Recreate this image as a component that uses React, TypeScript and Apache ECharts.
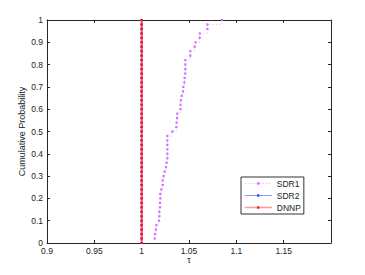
import React, { useEffect, useRef } from "react";
import * as echarts from "echarts";

const xTicks = [0.9, 0.95, 1, 1.05, 1.1, 1.15];
const yTicks = [0, 0.1, 0.2, 0.3, 0.4, 0.5, 0.6, 0.7, 0.8, 0.9, 1];

const probLevels = [
  0.02, 0.04, 0.06, 0.08, 0.1, 0.12, 0.14, 0.16, 0.18, 0.2,
  0.22, 0.24, 0.26, 0.28, 0.3, 0.32, 0.34, 0.36, 0.38, 0.4,
  0.42, 0.44, 0.46, 0.48, 0.5, 0.52, 0.54, 0.56, 0.58, 0.6,
  0.62, 0.64, 0.66, 0.68, 0.7, 0.72, 0.74, 0.76, 0.78, 0.8,
  0.82, 0.84, 0.86, 0.88, 0.9, 0.92, 0.94, 0.96, 0.98, 1.0,
];

const sdr1Tau = [
  1.0138, 1.0141, 1.015, 1.0155, 1.0183, 1.0187, 1.0187, 1.0194, 1.0194, 1.0197,
  1.0197, 1.0208, 1.0222, 1.0222, 1.0232, 1.0243, 1.0257, 1.0264, 1.0271, 1.0271,
  1.0271, 1.0271, 1.0271, 1.0271, 1.0324, 1.0366, 1.0369, 1.0373, 1.0376, 1.041,
  1.041, 1.0415, 1.0423, 1.0437, 1.044, 1.0451, 1.0454, 1.0461, 1.0461, 1.0461,
  1.0461, 1.0514, 1.0514, 1.056, 1.057, 1.0613, 1.0613, 1.0694, 1.0694, 1.0849,
];

const sdr2Tau = [
  1, 1, 1, 1, 1, 1, 1, 1, 1, 1, 1, 1, 1, 1, 1, 1, 1, 1, 1, 1, 1, 1, 1, 1, 1,
  1, 1, 1, 1, 1, 1, 1, 1, 1, 1, 1, 1, 1, 1, 1, 1, 1, 1, 1, 1, 1, 1, 1, 1, 1,
];

const dnnpTau = [
  1, 1, 1, 1, 1, 1, 1, 1, 1, 1, 1, 1, 1, 1, 1, 1, 1, 1, 1, 1, 1, 1, 1, 1, 1,
  1, 1, 1, 1, 1, 1, 1, 1, 1, 1, 1, 1, 1, 1, 1, 1, 1, 1, 1, 1, 1, 1, 1, 1, 1,
];

const seriesNames = ["SDR1", "SDR2", "DNNP"];

const FONT = "Liberation Sans";
const AXIS = "#262626";

export default function App() {
  const ref = useRef<HTMLDivElement>(null);
  useEffect(() => {
    if (!ref.current) return;
    const chart = echarts.init(ref.current, undefined, { renderer: "svg" });
    const pair = (xs: number[]) => xs.map((x, i) => [x, probLevels[i]]);
    const fmt = (ticks: number[]) => (v: number) => {
      const hit = ticks.find((t) => Math.abs(t - v) < 1e-9);
      return hit === undefined ? "" : String(hit);
    };
    const axisCommon = {
      axisLine: { show: true, onZero: false, lineStyle: { color: AXIS, width: 1 } },
      axisTick: { show: true, inside: true, length: 3, lineStyle: { color: AXIS } },
      splitLine: { show: false },
    };
    chart.setOption({
      animation: false,
      backgroundColor: "#fff",
      textStyle: { fontFamily: FONT },
      grid: { left: 47, right: 34, top: 20, bottom: 32, containLabel: false },
      xAxis: [
        {
          type: "value",
          min: 0.9,
          max: 1.2,
          interval: 0.05,
          name: "τ",
          nameLocation: "middle",
          nameGap: 12,
          nameMoveOverlap: false,
          nameTextStyle: { fontSize: 9, color: "#222", fontFamily: FONT },
          ...axisCommon,
          axisLabel: {
            fontSize: 8.5,
            color: "#222",
            margin: 3,
            fontFamily: FONT,
            formatter: fmt(xTicks),
            showMaxLabel: false,
          },
        },
        {
          type: "value",
          position: "top",
          min: 0.9,
          max: 1.2,
          interval: 0.05,
          ...axisCommon,
          axisLabel: { show: false },
        },
      ],
      yAxis: [
        {
          type: "value",
          min: 0,
          max: 1,
          interval: 0.1,
          name: "Cumulative Probability",
          nameLocation: "middle",
          nameGap: 21,
          nameMoveOverlap: false,
          nameTextStyle: { fontSize: 9, color: "#222", fontFamily: FONT },
          ...axisCommon,
          axisLabel: {
            fontSize: 8.5,
            color: "#222",
            margin: 4,
            fontFamily: FONT,
            formatter: fmt(yTicks),
          },
        },
        {
          type: "value",
          position: "right",
          min: 0,
          max: 1,
          interval: 0.1,
          ...axisCommon,
          axisLabel: { show: false },
        },
      ],
      legend: {
        orient: "vertical",
        left: 241,
        top: 177,
        padding: [2, 3, 2, 3],
        itemGap: 3,
        itemWidth: 27,
        itemHeight: 3,
        borderColor: "#333",
        borderWidth: 1,
        backgroundColor: "#fff",
        textStyle: { fontSize: 8.5, color: "#222", fontFamily: FONT },
        data: [
          {
            name: seriesNames[0],
            itemStyle: { color: "#cc55ff" },
            lineStyle: { color: "#dd88ff", type: [1, 2], width: 1 },
          },
          {
            name: seriesNames[1],
            itemStyle: { color: "#3344ff" },
            lineStyle: { color: "#8899ff", type: "solid", width: 1 },
          },
          {
            name: seriesNames[2],
            itemStyle: { color: "#ee2222" },
            lineStyle: { color: "#ff9999", type: "solid", width: 1.5 },
          },
        ],
      },
      series: [
        {
          name: seriesNames[1],
          type: "line",
          step: "end",
          data: pair(sdr2Tau),
          symbol: "rect",
          symbolSize: 2,
          itemStyle: { color: "#3344ff" },
          lineStyle: { color: "#3344ff", width: 1 },
          z: 2,
        },
        {
          name: seriesNames[2],
          type: "line",
          step: "end",
          data: [[1, 0], ...pair(dnnpTau)],
          symbol: "rect",
          symbolSize: [2.5, 2],
          itemStyle: { color: "#e8102a" },
          lineStyle: { color: "#f05070", width: 2 },
          z: 3,
        },
        {
          name: seriesNames[0],
          type: "line",
          step: "end",
          data: pair(sdr1Tau),
          symbol: "rect",
          symbolSize: 2.2,
          itemStyle: { color: "#cc60ff", opacity: 0.9 },
          lineStyle: { color: "#d890ff", type: [1, 2.5], width: 1, opacity: 0.7 },
          z: 4,
        },
      ],
    });
    return () => chart.dispose();
  }, []);
  return (
    <div
      ref={ref}
      style={{ position: "fixed", left: 0, top: 0, width: 365, height: 275 }}
    />
  );
}
